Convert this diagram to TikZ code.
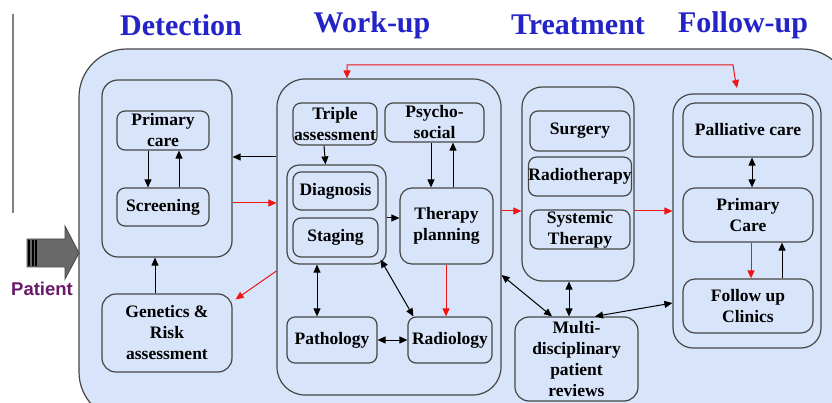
\documentclass[tikz,border=0pt]{standalone}
\usepackage{fontspec}
\setmainfont{Liberation Serif}
\newfontfamily\patfont{Liberation Sans}
\usetikzlibrary{arrows.meta,calc}
\definecolor{bg}{RGB}{216,228,250}
\definecolor{lc}{RGB}{70,70,70}
\definecolor{ttl}{RGB}{35,35,200}
\definecolor{pat}{RGB}{105,25,105}
\definecolor{arrred}{RGB}{240,20,20}
\newcommand\bxfont{\fontsize{17.5}{21}\selectfont\bfseries}
\tikzset{
  box/.style={draw=lc, line width=1.2pt, fill=bg, rounded corners=8pt, align=center, inner sep=0pt, font=\bxfont},
  cont/.style={draw=lc, line width=1.2pt, fill=bg, inner sep=0pt},
  ttlnode/.style={text=ttl, font=\fontsize{30}{34}\selectfont\bfseries, inner sep=0pt},
  tip/.tip={Triangle[length=8pt,width=7pt]},
  arr/.style={draw=black, line width=1pt, -tip},
  darr/.style={draw=black, line width=1pt, tip-tip},
  rarr/.style={draw=arrred, line width=1pt, -tip},
  rdarr/.style={draw=arrred, line width=1pt, tip-tip},
}
\begin{document}
\begin{tikzpicture}[x=1pt,y=-1pt]
\useasboundingbox (0,0) rectangle (832,403);
\fill[white] (0,0) rectangle (832,403);
% left rule
\draw[gray, line width=1.5pt] (13,14) -- (13,213);
% titles
\node[ttlnode] (tdet) at (181,25) {Detection};
\node[ttlnode] (twu) at (372,25) {Work-up};
\node[ttlnode] (ttr) at (578,25) {Treatment};
\node[ttlnode] (tfu) at (743,25) {Follow-up};
% outer
\draw[lc, line width=1.2pt, fill=bg, rounded corners=48pt] (79,49) rectangle (850,420);
% patient arrow
\draw[lc, fill={rgb,255:red,105;green,105;blue,105}, line width=0.8pt]
  (27,239) -- (65,239) -- (65,226) -- (79,253) -- (65,279) -- (65,267) -- (27,267) -- cycle;
\draw[black, line width=1.2pt] (29,240) -- (29,266);
\draw[black, line width=1.2pt] (33,240) -- (33,266);
\draw[black, line width=1.2pt] (36,240) -- (36,266);
\node[text=pat, font=\patfont\fontsize{18.5}{20}\selectfont\bfseries, inner sep=0pt] (patient) at (42,289) {Patient};
% containers
\node[cont, rounded corners=16pt, minimum width=130pt, minimum height=177pt] (det) at (167,168.5) {};
\node[cont, rounded corners=28pt, minimum width=224pt, minimum height=316pt] (wu) at (389,237) {};
\node[cont, rounded corners=20pt, minimum width=112pt, minimum height=194pt] (tr) at (578,184) {};
\node[cont, rounded corners=20pt, minimum width=148pt, minimum height=254pt] (fu) at (747,221) {};
% detection
\node[box, minimum width=92pt, minimum height=39pt] (pc) at (163,130.5) {Primary\\care};
\node[box, minimum width=92pt, minimum height=38pt] (scr) at (163,207) {Screening};
\node[box, rounded corners=14pt, minimum width=130pt, minimum height=78pt] (gen) at (167,333) {Genetics \&\\Risk\\assessment};
% work-up
\node[box, minimum width=84pt, minimum height=42pt] (tri) at (335,124) {Triple\\assessment};
\node[box, minimum width=99pt, minimum height=39pt] (psy) at (434.5,122.5) {Psycho-\\social};
\node[cont, rounded corners=12pt, minimum width=99pt, minimum height=99pt] (grp) at (336.5,214.5) {};
\node[box, minimum width=85pt, minimum height=38pt] (dia) at (335.5,191) {Diagnosis};
\node[box, minimum width=85pt, minimum height=39pt] (stg) at (335.5,237.5) {Staging};
\node[box, rounded corners=12pt, minimum width=93pt, minimum height=76pt] (ther) at (446.5,226) {Therapy\\planning};
\node[box, minimum width=90pt, minimum height=46pt] (path) at (332,340) {Pathology};
\node[box, minimum width=84pt, minimum height=46pt] (rad) at (450,340) {Radiology};
% treatment
\node[box, minimum width=100pt, minimum height=40pt] (sur) at (580,131) {Surgery};
\node[box, minimum width=100pt, minimum height=39pt] (rth) at (580,176.5) {Radiotherapy};
\node[box, minimum width=100pt, minimum height=39pt] (sys) at (580,229.5) {Systemic\\Therapy};
\node[box, rounded corners=14pt, minimum width=123pt, minimum height=84pt] (mdt) at (576.5,359) {Multi-\\disciplinary\\patient\\reviews};
% follow-up
\node[box, rounded corners=12pt, minimum width=130pt, minimum height=54pt] (pal) at (748,130) {Palliative care};
\node[box, rounded corners=12pt, minimum width=130pt, minimum height=54pt] (pc2) at (748,215) {Primary\\Care};
\node[box, rounded corners=12pt, minimum width=130pt, minimum height=54pt] (fuc) at (748,306) {Follow up\\Clinics};
% connectors: detection
\draw[arr] ([xshift=-15pt]pc.south) -- ([xshift=-15pt]scr.north);
\draw[arr] ([xshift=16pt]scr.north) -- ([xshift=16pt]pc.south);
\draw[arr] ([xshift=-12pt]gen.north) -- ([xshift=-12pt]det.south);
\draw[arr] (wu.west |- 0,157) -- (det.east |- 0,157);
\draw[rarr] (det.east |- 0,203) -- (wu.west |- 0,203);
\draw[rarr] (wu.west |- 0,271) -- ([shift={(3,6)}]gen.north east);
% work-up
\draw[arr] ([xshift=-11pt]tri.south) -- ([xshift=-11pt]grp.north);
\draw[arr] (psy.south -| 431,0) -- (ther.north -| 431,0);
\draw[arr] (ther.north -| 453,0) -- (psy.south -| 453,0);
\draw[arr] (grp.east |- 0,218) -- (ther.west |- 0,218);
\draw[darr] (grp.south -| 317,0) -- (path.north -| 317,0);
\draw[darr] ([shift={(-6,-5)}]grp.south east) -- ([shift={(6,0)}]rad.north west);
\draw[rarr] (ther.south -| 446,0) -- (rad.north -| 446,0);
\draw[darr] (path.east) -- (rad.west);
% treatment / follow-up
\draw[rarr] (wu.east |- 0,211) -- (tr.west |- 0,211);
\draw[rarr] (tr.east |- 0,211) -- (fu.west |- 0,211);
\draw[darr] (tr.south -| 569,0) -- (mdt.north -| 569,0);
\draw[darr] (wu.east |- 0,275) -- (mdt.north -| 552,0);
\draw[darr] (mdt.north -| 595,0) -- (fu.west |- 0,303);
\draw[darr] (pal.south -| 752,0) -- (pc2.north -| 752,0);
\draw[rarr] (pc2.south -| 751,0) -- (fuc.north -| 751,0);
\draw[arr] (fuc.north -| 782,0) -- (pc2.south -| 782,0);
% top red connector
\coordinate (fuin) at (737,88);
\draw[rdarr] (wu.north -| 347,0) -- (347,65) -- (733,65) -- (735,78) -- (fuin);
\end{tikzpicture}
\end{document}
